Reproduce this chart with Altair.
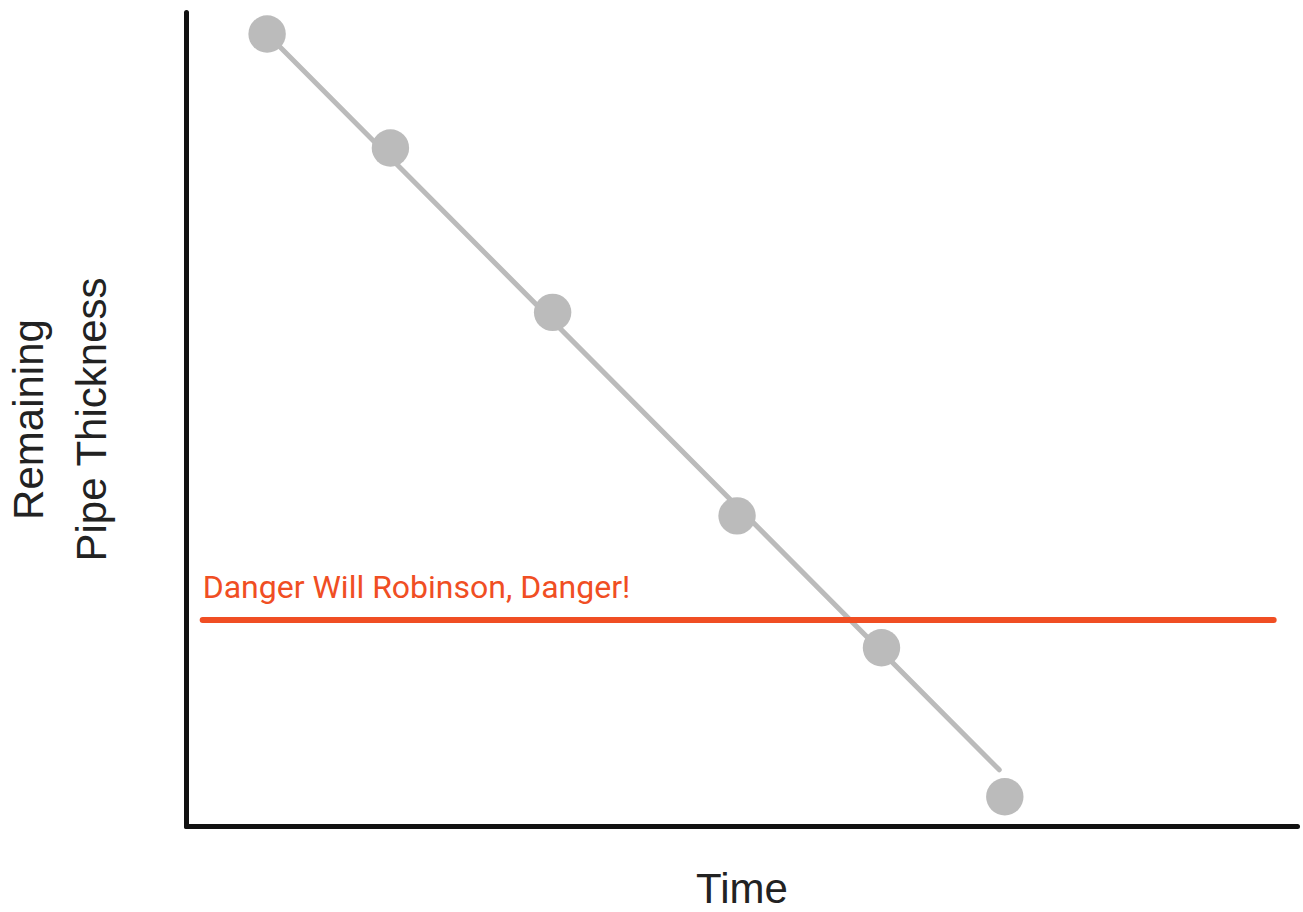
import altair as alt
import pandas as pd

# Measured points (time, remaining thickness) in arbitrary 0-100 units
times = [7.3, 18.4, 33.0, 49.6, 62.6, 73.7]
thickness = [97.3, 83.3, 63.1, 38.1, 21.9, 3.6]

# Trend line endpoints
trend_t = [7.3, 73.2]
trend_v = [97.3, 6.9]

# Danger threshold
danger_level = 25.3
danger_start, danger_end = 1.5, 97.9
danger_label = "Danger Will Robinson, Danger!"
label_level = 28.0

pts = pd.DataFrame({"t": times, "v": thickness})
trend = pd.DataFrame({"t": trend_t, "v": trend_v})
danger = pd.DataFrame({"t": [danger_start], "t2": [danger_end], "v": [danger_level]})
label = pd.DataFrame({"t": [danger_start], "v": [label_level], "txt": [danger_label]})

GRAY = "#BBBBBB"
RED = "#F04E23"

xs = alt.Scale(domain=[0, 100], nice=False, zero=False)
ys = alt.Scale(domain=[0, 100], nice=False, zero=False)

x_axis = alt.Axis(title="Time", labels=False, ticks=False, grid=False,
                  domainColor="#111111", domainWidth=5, domainCap="round",
                  titleFontSize=42, titleFont="Liberation Sans", titleFontWeight="normal",
                  titleColor="#222222", titlePadding=43)
y_axis = alt.Axis(title=["Remaining", "Pipe Thickness"], labels=False, ticks=False, grid=False,
                  domainColor="#111111", domainWidth=5, domainCap="round",
                  titleFontSize=42, titleFont="Liberation Sans", titleFontWeight="normal",
                  titleColor="#222222", titlePadding=72, titleLineHeight=63)

line = alt.Chart(trend).mark_line(color=GRAY, strokeWidth=5, strokeCap="round").encode(
    x=alt.X("t:Q", scale=xs, axis=x_axis),
    y=alt.Y("v:Q", scale=ys, axis=y_axis),
)

circles = alt.Chart(pts).mark_circle(color=GRAY, opacity=1, size=1400).encode(
    x=alt.X("t:Q", scale=xs),
    y=alt.Y("v:Q", scale=ys),
)

rule = alt.Chart(danger).mark_rule(color=RED, strokeWidth=6, strokeCap="round").encode(
    x=alt.X("t:Q", scale=xs),
    x2="t2:Q",
    y=alt.Y("v:Q", scale=ys),
)

text = alt.Chart(label).mark_text(color=RED, fontSize=32, font="Roboto", align="left",
                                  baseline="alphabetic").encode(
    x=alt.X("t:Q", scale=xs),
    y=alt.Y("v:Q", scale=ys),
    text="txt:N",
)

chart = alt.layer(line, circles, rule, text).properties(
    width=1111, height=814,
    autosize=alt.AutoSizeParams(type="none"),
    padding={"left": 186, "top": 12, "right": 6, "bottom": 86},
    background="white",
).configure_view(stroke=None)

chart.save("out.html", embed_options={"renderer": "svg", "actions": False})
